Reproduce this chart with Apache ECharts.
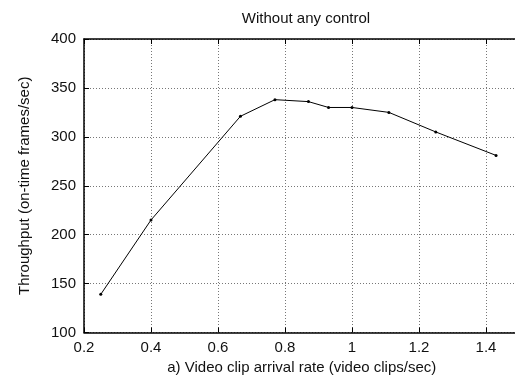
<!DOCTYPE html>
<html>
<head>
<meta charset="utf-8">
<script src="https://cdn.jsdelivr.net/npm/echarts@6/dist/echarts.min.js"></script>
<style>
  html, body { margin: 0; padding: 0; background: #fff; }
  #chart { width: 515px; height: 379px; }
</style>
</head>
<body>
<div id="chart"></div>
<script>
// arrival rate (video clips/sec) and throughput (on-time frames/sec)
var arrivalRate = [0.25, 0.4, 0.667, 0.77, 0.87, 0.93, 1.0, 1.11, 1.25, 1.43]
var throughput = [139, 215, 321, 338, 336, 330, 330, 325, 305, 281]
var xTicks = [0.2, 0.4, 0.6, 0.8, 1, 1.2, 1.4]

var font = 'Liberation Sans, Arial, Helvetica, sans-serif'
var chart = echarts.init(document.getElementById('chart'))

var points = arrivalRate.map(function (x, i) { return [x, throughput[i]] })

chart.setOption({
  animation: false,
  title: {
    text: 'Without any control',
    left: 301,
    top: 6,
    textAlign: 'center',
    textStyle: { fontFamily: font, fontSize: 15, fontWeight: 'normal', color: '#111' }
  },
  grid: { left: 84, top: 39, width: 435.5, height: 293.5, show: false, outerBoundsMode: 'none', containLabel: false },
  xAxis: [{
    type: 'value',
    min: 0.2,
    max: 1.5,
    interval: 0.2,
    name: 'a) Video clip arrival rate (video clips/sec)',
    nameLocation: 'middle',
    nameGap: 28,
    nameTextStyle: { fontFamily: font, fontSize: 15, color: '#111' },
    axisLine: { lineStyle: { color: '#000', width: 1.5 } },
    axisTick: { inside: true, length: 5, lineStyle: { color: '#000' } },
    axisLabel: {
      fontFamily: font, fontSize: 15, color: '#111', margin: 8,
      formatter: function (v) { return xTicks.indexOf(Math.round(v * 10) / 10) >= 0 ? String(Math.round(v * 10) / 10) : '' }
    },
    splitLine: { show: true, lineStyle: { type: [1, 2], color: '#777', width: 1 } }
  }, {
    type: 'value',
    position: 'top',
    min: 0.2,
    max: 1.5,
    interval: 0.2,
    axisLine: { show: true, lineStyle: { color: '#000', width: 1.5 } },
    axisTick: { show: true, inside: true, length: 5, lineStyle: { color: '#000' } },
    axisLabel: { show: false },
    splitLine: { show: false }
  }],
  yAxis: {
    type: 'value',
    min: 100,
    max: 400,
    interval: 50,
    name: 'Throughput (on-time frames/sec)',
    nameLocation: 'middle',
    nameGap: 52,
    nameTextStyle: { fontFamily: font, fontSize: 15, color: '#111' },
    axisLine: { show: true, lineStyle: { color: '#000', width: 1.5 } },
    axisTick: { show: true, inside: true, length: 5, lineStyle: { color: '#000' } },
    axisLabel: { fontFamily: font, fontSize: 15, color: '#111', margin: 8 },
    splitLine: { show: true, lineStyle: { type: [1, 2], color: '#777', width: 1 } }
  },
  series: [{
    type: 'line',
    data: points,
    symbol: 'circle',
    symbolSize: 3,
    lineStyle: { color: '#000', width: 1 },
    itemStyle: { color: '#000' }
  }]
})
</script>
</body>
</html>
